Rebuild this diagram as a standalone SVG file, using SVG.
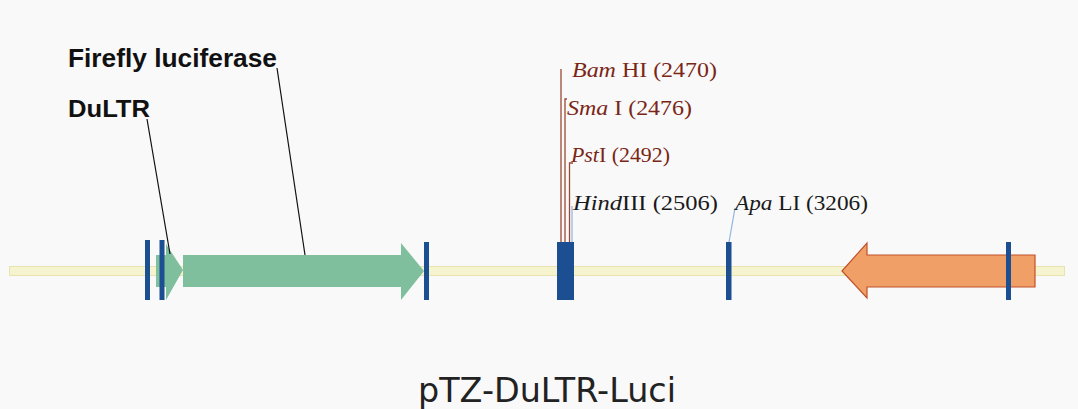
<svg xmlns="http://www.w3.org/2000/svg" width="1078" height="409" viewBox="0 0 1078 409">
  <style>
    .bg { fill: #f9f9f9; }
    .backbone { fill: #f6f3cf; stroke: #e9e3b0; stroke-width: 1; }
    .site { fill: #1b4f91; }
    .gene-green { fill: #7fbf9d; }
    .gene-orange { fill: #f0a066; stroke: #c1502a; stroke-width: 1.2; }
    .leader { stroke: #111111; stroke-width: 1.2; fill: none; }
    .leader-red { stroke: #9a4a35; stroke-width: 1.3; fill: none; }
    .leader-blue { stroke: #8fb4e0; stroke-width: 1.2; fill: none; }
    .label-bold { font-family: "Liberation Sans", Arial, sans-serif; font-weight: bold; fill: #111111; }
    .site-label { font-family: "Liberation Serif", "Times New Roman", serif; font-size: 21px; }
    .red { fill: #7a2616; }
    .black { fill: #1a1a1a; }
    .title { font-family: "DejaVu Sans", Verdana, sans-serif; font-size: 33px; fill: #222222; }
  </style>

  <rect class="bg" x="0" y="0" width="1078" height="409"/>

  <!-- plasmid backbone -->
  <g id="backbone">
    <rect class="backbone" x="9.5" y="266.5" width="1055" height="9"/>
  </g>

  <!-- DuLTR feature -->
  <g id="dultr">
    <path class="gene-green" d="M156 255 H166 V244 L183 270 L166 300 V287 H156 Z"/>
    <rect class="site" x="145" y="240" width="5" height="60"/>
    <rect class="site" x="159.5" y="240" width="5" height="60"/>
    <text class="label-bold" x="68" y="117" font-size="23" textLength="82" lengthAdjust="spacingAndGlyphs">DuLTR</text>
  </g>

  <!-- Firefly luciferase feature -->
  <g id="luciferase">
    <path class="gene-green" d="M183 255 H401 V243 L424 271 L401 300 V287 H183 Z"/>
    <rect class="site" x="424" y="242" width="5" height="58"/>
    <text class="label-bold" x="68" y="67" font-size="25" textLength="209" lengthAdjust="spacingAndGlyphs">Firefly luciferase</text>
  </g>

  <!-- multiple cloning site -->
  <g id="mcs">
    <rect class="site" x="557" y="242" width="17" height="58"/>
  </g>

  <!-- ApaLI site -->
  <g id="apali">
    <rect class="site" x="726" y="242" width="5.5" height="58"/>
  </g>

  <!-- reverse-oriented gene -->
  <g id="reverse-gene">
    <path class="gene-orange" d="M1035 255 H867 V243 L842 271 L867 298 V287 H1035 Z"/>
    <rect class="site" x="1006" y="242" width="5" height="58"/>
  </g>

  <!-- leader lines -->
  <g id="connectors">
    <line class="leader" x1="147" y1="119" x2="170" y2="254"/>
    <line class="leader" x1="277" y1="68" x2="305" y2="255"/>
    <line class="leader-red" x1="561" y1="69" x2="561" y2="242"/>
    <path class="leader-red" d="M567 99 H565 V242"/>
    <path class="leader-red" d="M573 163 H569.5 V242"/>
    <line class="leader-blue" x1="572" y1="206" x2="572" y2="242"/>
    <line class="leader-blue" x1="735" y1="208" x2="729" y2="242"/>
  </g>

  <!-- restriction site labels -->
  <g id="site-labels">
    <text class="site-label red" x="572" y="77" textLength="145" lengthAdjust="spacingAndGlyphs"><tspan font-style="italic">Bam</tspan> HI (2470)</text>
    <text class="site-label red" x="567" y="115" textLength="125" lengthAdjust="spacingAndGlyphs"><tspan font-style="italic">Sma</tspan> I (2476)</text>
    <text class="site-label red" x="571" y="162" textLength="99" lengthAdjust="spacingAndGlyphs"><tspan font-style="italic">Pst</tspan>I (2492)</text>
    <text class="site-label black" x="573" y="210" textLength="145" lengthAdjust="spacingAndGlyphs"><tspan font-style="italic">Hind</tspan>III (2506)</text>
    <text class="site-label black" x="735" y="210" textLength="133" lengthAdjust="spacingAndGlyphs"><tspan font-style="italic">Apa</tspan> LI (3206)</text>
  </g>

  <!-- map title -->
  <g id="title">
    <text class="title" x="418" y="402" textLength="258" lengthAdjust="spacingAndGlyphs">pTZ-DuLTR-Luci</text>
  </g>
</svg>
